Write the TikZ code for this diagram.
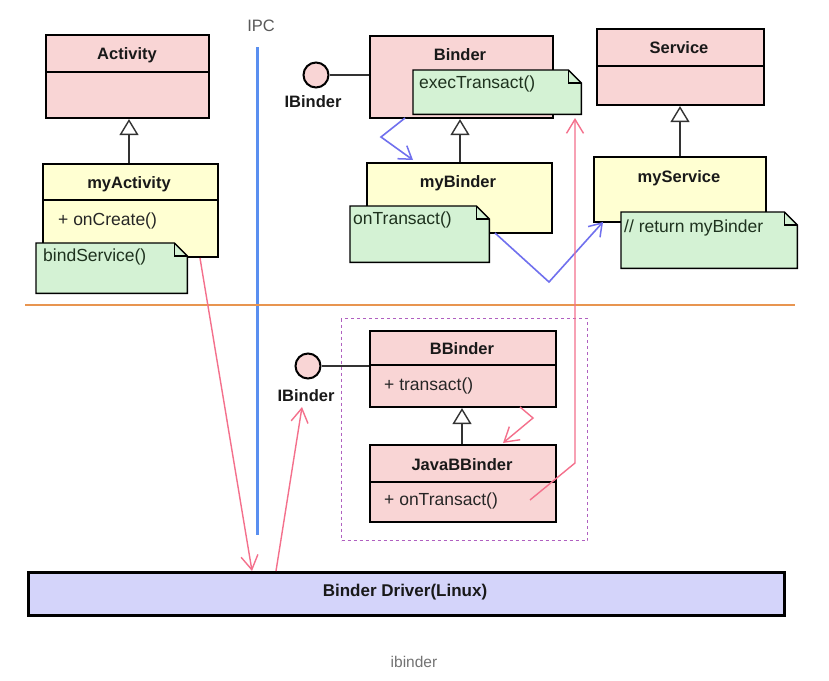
\documentclass[tikz,border=0pt]{standalone}
\usepackage{fontspec}
\setmainfont{Liberation Sans}
\usetikzlibrary{arrows.meta}
\definecolor{pinkfill}{RGB}{249,213,213}
\definecolor{yellowfill}{RGB}{255,255,210}
\definecolor{greenfill}{RGB}{212,242,212}
\definecolor{drvfill}{RGB}{212,212,250}
\definecolor{ipcblue}{RGB}{90,143,240}
\definecolor{sepor}{RGB}{232,149,80}
\definecolor{redline}{RGB}{244,112,140}
\definecolor{blueline}{RGB}{112,112,238}
\definecolor{dashpurple}{RGB}{176,96,192}
\definecolor{notetext}{RGB}{30,50,30}
\newcommand{\notefold}[1]{%
  \filldraw[notestyle] (#1.north west) -- ([xshift=-13pt]#1.north east) -- ([yshift=-13pt]#1.north east) -- (#1.south east) -- (#1.south west) -- cycle;
  \draw[notestyle,fill=none] ([xshift=-13pt]#1.north east) -- ([xshift=-13pt,yshift=-13pt]#1.north east) -- ([yshift=-13pt]#1.north east);}
\newcommand{\clsdivider}[2]{\draw[divline] (#1.west |- 0,#2) -- (#1.east |- 0,#2);}
\begin{document}
\begin{tikzpicture}[x=1pt,y=-1pt,
  clsbox/.style={draw=black, line width=2.1pt, anchor=north west, inner sep=0pt},
  notebox/.style={draw=none, fill=none, anchor=north west, inner sep=0pt},
  notestyle/.style={fill=greenfill, draw=black, line width=1.4pt, line join=miter},
  divline/.style={black, line width=1.5pt},
  ttl/.style={font=\fontsize{16.5}{19}\selectfont\bfseries, text=black!90, inner sep=0pt},
  mem/.style={font=\fontsize{17.5}{20}\selectfont, text=black!85, inner sep=0pt, anchor=west},
  ntxt/.style={font=\fontsize{17.5}{20}\selectfont, text=notetext, inner sep=0pt, anchor=west},
  inh/.style={draw=black!80, line width=1.6pt, -{Triangle[length=16pt,width=19pt,fill=white,line width=1.4pt]}},
  lolli/.style={circle, draw=black, line width=2pt, fill=pinkfill, minimum size=25pt, inner sep=0pt},
  lolline/.style={draw=black!80, line width=1.6pt},
  redarr/.style={draw=redline, line width=1.4pt, -{Straight Barb[length=14pt,width=17pt,line width=1.4pt]}},
  bluearr/.style={draw=blueline, line width=1.6pt, -{Straight Barb[length=12pt,width=16pt,line width=1.5pt]}}
]
\fill[white] (0,0) rectangle (829,680);
\useasboundingbox (0,0) rectangle (829,680);

% separators
\node[font=\fontsize{16.5}{19}\selectfont, text=black!65, inner sep=0pt] (ipc) at (261,26) {IPC};
\coordinate (ipctop) at (257,47);
\coordinate (ipcbot) at (257,535);
\draw[ipcblue, line width=3pt] (ipctop) -- (ipcbot);
\coordinate (sepl) at (25,305);
\coordinate (sepr) at (795,305);
\draw[sepor, line width=2.5pt] (sepl) -- (sepr);

% dashed frame
\node[draw=dashpurple, line width=1pt, dash pattern=on 3pt off 3pt, anchor=north west, minimum width=246pt, minimum height=222pt, inner sep=0pt] (frame) at (341,318) {};

% ---- Activity side
\node[clsbox, fill=pinkfill, minimum width=163pt, minimum height=83pt] (Activity) at (45,34) {};
\clsdivider{Activity}{72}
\node[ttl] (ActivityT) at (127,55) {Activity};

\node[clsbox, fill=yellowfill, minimum width=175pt, minimum height=93pt] (myActivity) at (42,163) {};
\clsdivider{myActivity}{200}
\node[ttl] (myActivityT) at (129,184) {myActivity};
\node[mem] (onCreate) at (58,221) {+ onCreate()};
\draw[inh] (myActivity.north -| 129,0) -- (Activity.south -| 129,0);

\node[notebox, minimum width=151pt, minimum height=50pt] (bindN) at (36,243) {};
\notefold{bindN}
\node[ntxt] (bindT) at (43,257) {bindService()};

% ---- Binder side
\node[clsbox, fill=pinkfill, minimum width=183pt, minimum height=82pt] (Binder) at (369,35) {};
\node[ttl] (BinderT) at (460,55) {Binder};
\node[notebox, minimum width=168pt, minimum height=44pt] (execN) at (413,70) {};
\notefold{execN}
\node[ntxt] (execT) at (419,84) {execTransact()};

\node[lolli] (ib1) at (316,75) {};
\draw[lolline] (ib1.east) -- (ib1.east -| Binder.west);
\node[ttl] (ib1L) at (313,102) {IBinder};

\node[clsbox, fill=yellowfill, minimum width=185pt, minimum height=70pt] (myBinder) at (366,162) {};
\node[ttl] (myBinderT) at (458,183) {myBinder};
\draw[inh] (myBinder.north -| 460,0) -- (Binder.south -| 460,0);
\node[notebox, minimum width=139pt, minimum height=56pt] (onTrN) at (350,206) {};
\notefold{onTrN}
\node[ntxt] (onTrT) at (353,220) {onTransact()};

% ---- Service side
\node[clsbox, fill=pinkfill, minimum width=167pt, minimum height=76pt] (Service) at (596,28) {};
\clsdivider{Service}{66}
\node[ttl] (ServiceT) at (679,48) {Service};
\node[clsbox, fill=yellowfill, minimum width=172pt, minimum height=65pt] (myService) at (593,156) {};
\node[ttl] (myServiceT) at (679,178) {myService};
\draw[inh] (myService.north -| 680,0) -- (Service.south -| 680,0);
\node[notebox, minimum width=176pt, minimum height=56pt] (retN) at (621,212) {};
\notefold{retN}
\node[ntxt] (retT) at (624,228) {// return myBinder};

% ---- native side
\node[clsbox, fill=pinkfill, minimum width=186pt, minimum height=76pt] (BBinder) at (369,330) {};
\clsdivider{BBinder}{365}
\node[ttl] (BBinderT) at (462,349) {BBinder};
\node[mem] (transact) at (384,386) {+ transact()};

\node[clsbox, fill=pinkfill, minimum width=186pt, minimum height=77pt] (JBB) at (369,444) {};
\clsdivider{JBB}{482}
\node[ttl] (JBBT) at (462,465) {JavaBBinder};
\node[mem] (jonTr) at (384,501) {+ onTransact()};
\draw[inh] (JBB.north -| 462,0) -- (BBinder.south -| 462,0);

\node[lolli] (ib2) at (308,366) {};
\draw[lolline] (ib2.east) -- (ib2.east -| BBinder.west);
\node[ttl] (ib2L) at (306,396) {IBinder};

% ---- driver
\node[clsbox, fill=drvfill, line width=2.6pt, minimum width=756pt, minimum height=43pt] (Driver) at (27,571) {};
\node[ttl, font=\fontsize{17}{19}\selectfont\bfseries] (DriverT) at (405,592) {Binder Driver(Linux)};

\node[font=\fontsize{15.5}{17}\selectfont, text=black!55, inner sep=0pt] (cap) at (414,662) {ibinder};

% ---- blue arrows
\coordinate (bs1) at (405,118);
\coordinate (bm1) at (381,137);
\coordinate (bt1) at (413,160);
\draw[bluearr] (bs1) -- (bm1) -- (bt1);
\coordinate (bs2) at (495,233);
\coordinate (bm2) at (549,282);
\coordinate (bt2) at (603,222);
\draw[bluearr] (bs2) -- (bm2) -- (bt2);

% ---- red arrows
\coordinate (rs1) at (200,258);
\coordinate (rd1) at (252,571);
\draw[redarr] (rs1) -- (rd1);
\coordinate (rd2) at (276,571);
\coordinate (rt2) at (302,407);
\draw[redarr] (rd2) -- (rt2);
\coordinate (rs3) at (520,407);
\coordinate (rm3) at (533,418);
\coordinate (rt3) at (503,443);
\draw[redarr] (rs3) -- (rm3) -- (rt3);
\coordinate (rs4) at (530,500);
\coordinate (rm4) at (575,463);
\coordinate (rt4) at (575,118);
\draw[redarr] (rs4) -- (rm4) -- (rt4);
\end{tikzpicture}
\end{document}
